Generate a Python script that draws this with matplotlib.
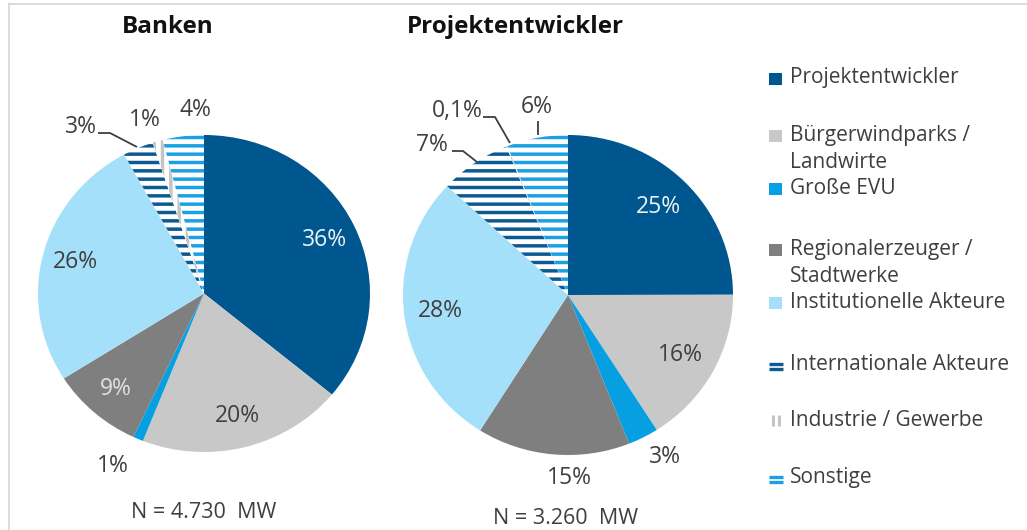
import matplotlib
matplotlib.use("Agg")
import matplotlib.pyplot as plt
import numpy as np
from matplotlib.patches import Rectangle

W, H = 1027, 530

CATEGORIES = ["Projektentwickler", "Bürgerwindparks /\nLandwirte", "Große EVU",
              "Regionalerzeuger /\nStadtwerke", "Institutionelle Akteure",
              "Internationale Akteure", "Industrie / Gewerbe", "Sonstige"]
BANKEN = [36, 20, 1, 9, 26, 3, 1, 4]
PROJEKT = [25, 16, 3, 15, 28, 7, 0.1, 6]
BANKEN_LABELS = ["36%", "20%", "1%", "9%", "26%", "3%", "1%", "4%"]
PROJEKT_LABELS = ["25%", "16%", "3%", "15%", "28%", "7%", "0,1%", "6%"]
TITLES = ["Banken", "Projektentwickler"]
TOTALS = ["N = 4.730  MW", "N = 3.260  MW"]

FACE = ["#00578f", "#c8c8c8", "#06a0e2", "#7f7f7f", "#a4e0fa", "white", "white", "white"]
HATCH = [None, None, None, None, None, "--", "||", "--"]
STRIPE = [None, None, None, None, None, "#0d5a92", "#c4c4c4", "#1aa0e4"]
TXT = "#3f3f3f"

plt.rcParams["font.family"] = ["Open Sans", "DejaVu Sans"]
plt.rcParams["hatch.linewidth"] = 2.5

fig = plt.figure(figsize=(W / 100, H / 100), dpi=100)

over = fig.add_axes([0, 0, 1, 1], zorder=3)
over.set_xlim(0, W)
over.set_ylim(H, 0)
over.axis("off")
over.patch.set_alpha(0)


def draw_pie(box, values, labels, inside, outside, leaders, pctdist):
    x0, y0, x1, y1 = box
    ax = fig.add_axes([x0 / W, 1 - y1 / H, (x1 - x0) / W, (y1 - y0) / H], zorder=1)
    wedges, _ = ax.pie(values, colors=FACE, startangle=90, counterclock=False,
                       wedgeprops=dict(linewidth=0))
    ax.set_aspect("auto")
    ax.set_xlim(-1, 1)
    ax.set_ylim(-1, 1)
    ax.axis("off")
    for w, h, ec in zip(wedges, HATCH, STRIPE):
        if h:
            w.set_hatch(h)
            w.set_edgecolor(ec)
    for i in inside:
        w = wedges[i]
        a = np.deg2rad((w.theta1 + w.theta2) / 2)
        col = "#eef2f6" if i == 0 else ("#e2e2e2" if i == 3 else TXT)
        ax.text(pctdist * np.cos(a), pctdist * np.sin(a), labels[i], color=col,
                fontsize=16.5, ha="center", va="center")
    for i, (x, y) in outside.items():
        over.text(x, y, labels[i], color=TXT, fontsize=16.5, ha="center", va="center")
    for xs, ys in leaders:
        over.plot(xs, ys, color=TXT, lw=1.3, solid_capstyle="butt")


draw_pie((38, 135, 370, 452), BANKEN, BANKEN_LABELS, [0, 1, 3, 4],
         {2: (113, 466), 5: (81, 127), 6: (145, 120), 7: (195, 110)},
         [([98, 110, 137], [133, 133, 147])], 0.80)
draw_pie((403, 135, 733, 455), PROJEKT, PROJEKT_LABELS, [0, 1, 4],
         {2: (665, 457), 3: (569, 478), 5: (432, 145), 6: (457, 111), 7: (537, 107)},
         [([452, 463, 477], [151, 151, 162]),
          ([483, 495, 510], [117, 117, 143]),
          ([538, 538], [121, 135])], 0.78)

for x, t in zip([168, 515], TITLES):
    over.text(x, 27, t, fontsize=17.5, fontweight="bold", color="#111111",
              ha="center", va="center")
for x, y, t in zip([204, 566], [513, 519], TOTALS):
    over.text(x, y, t, fontsize=15.5, color=TXT, ha="center", va="center")

# legend
legend_y = [78, 135, 188, 249, 302, 364, 420, 477]
for i, (cat, y) in enumerate(zip(CATEGORIES, legend_y)):
    for k, line in enumerate(cat.split("\n")):
        over.text(790, y + k * 27, line, fontsize=15, color=TXT, ha="left", va="center")
    if HATCH[i] is None:
        over.add_patch(Rectangle((769, y - 5), 13, 12, facecolor=FACE[i], lw=0))
    elif HATCH[i] == "--":
        for dy in (0, 5):
            over.plot([769, 783], [y + dy, y + dy], color=STRIPE[i], lw=2.4,
                      solid_capstyle="butt")
    else:
        for dx in (773, 779):
            over.plot([dx, dx], [y - 5, y + 6], color=STRIPE[i], lw=2.2,
                      solid_capstyle="butt")

# frame
over.plot([9, W], [4, 4], color="#d6d6d6", lw=1.2)
over.plot([9, 9], [4, H], color="#d6d6d6", lw=1.2)

fig.savefig("out.png", dpi=100)
